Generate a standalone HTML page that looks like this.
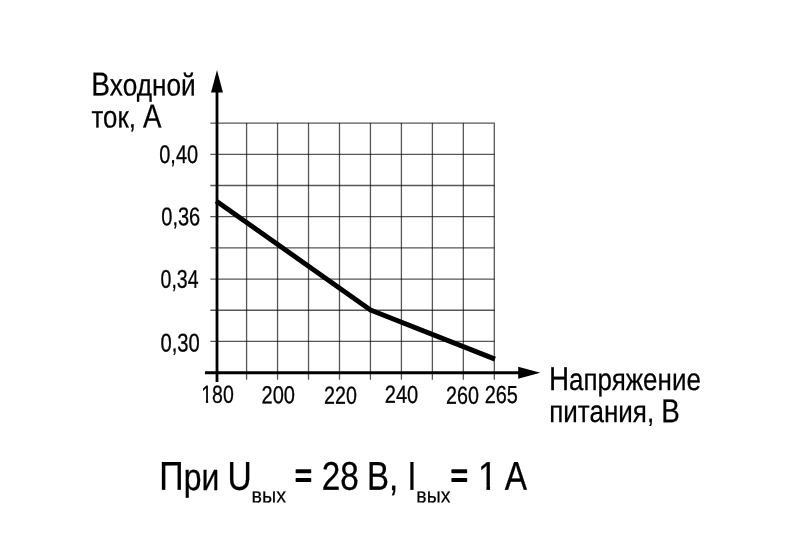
<!DOCTYPE html>
<html lang="ru"><head><meta charset="utf-8">
<style>html,body{margin:0;padding:0;background:#fff;overflow:hidden}svg{display:block}#all{filter:blur(0.35px)}text{font-family:"Liberation Sans", "DejaVu Sans", sans-serif;fill:#000;white-space:pre;text-rendering:geometricPrecision;stroke:#000;stroke-linejoin:round;}</style></head><body>
<svg width="800" height="560" viewBox="0 0 800 560">
<rect width="800" height="560" fill="#fff"/>
<g id="all">
<g id="grid" stroke="#000" stroke-width="1.3" stroke-opacity="0.66" fill="none" stroke-linejoin="round">
<path d="M210.3 123.10H494.31V379.7"/>
<line x1="246.59" y1="123.10" x2="246.59" y2="379.70"/>
<line x1="277.55" y1="123.10" x2="277.55" y2="379.70"/>
<line x1="308.51" y1="123.10" x2="308.51" y2="379.70"/>
<line x1="339.48" y1="123.10" x2="339.48" y2="379.70"/>
<line x1="370.44" y1="123.10" x2="370.44" y2="379.70"/>
<line x1="401.41" y1="123.10" x2="401.41" y2="379.70"/>
<line x1="432.38" y1="123.10" x2="432.38" y2="379.70"/>
<line x1="463.34" y1="123.10" x2="463.34" y2="379.70"/>
<line x1="210.30" y1="154.29" x2="494.31" y2="154.29"/>
<line x1="210.30" y1="185.48" x2="494.31" y2="185.48"/>
<line x1="210.30" y1="216.67" x2="494.31" y2="216.67"/>
<line x1="210.30" y1="247.86" x2="494.31" y2="247.86"/>
<line x1="210.30" y1="279.05" x2="494.31" y2="279.05"/>
<line x1="210.30" y1="310.24" x2="494.31" y2="310.24"/>
<line x1="210.30" y1="341.43" x2="494.31" y2="341.43"/>
</g>
<g id="axes" stroke="#000" stroke-width="2.8" fill="none">
<line x1="217" y1="90" x2="217" y2="381.9"/>
<line x1="205" y1="372.75" x2="520" y2="372.75"/>
</g>
<polygon id="ah1" points="217,70 222.95,92.5 211.05,92.5" fill="#000"/>
<polygon id="ah2" points="540.3,372.7 518.2,378.7 518.2,366.7" fill="#000"/>
<polyline id="curve" points="216.2,201.1 370.5,310.05 495,359.1" fill="none" stroke="#000" stroke-width="4.9" stroke-linejoin="round"/>
<text id="yl1" transform="translate(91.135 95.45) scale(0.8462 1) skewY(0.06)" font-size="31.0" stroke-width="0.25"><tspan font-size="33.2">В</tspan>ходной</text>
<text id="yl2" transform="translate(91.481 127.5) scale(0.8336 1) skewY(0.06)" font-size="31.0" stroke-width="0.25">ток, <tspan font-size="33.2">А</tspan></text>
<text id="y40" transform="translate(159.269 163.0) scale(0.7792 1) skewY(0.06)" font-size="25.6" stroke-width="0.3">0,40</text>
<text id="y36" transform="translate(161.263 225.3) scale(0.7824 1) skewY(0.06)" font-size="25.6" stroke-width="0.3">0,36</text>
<text id="y34" transform="translate(160.536 287.8) scale(0.7616 1) skewY(0.06)" font-size="25.6" stroke-width="0.3">0,34</text>
<text id="y30" transform="translate(160.510 351.4) scale(0.7894 1) skewY(0.06)" font-size="25.6" stroke-width="0.3">0,30</text>
<clipPath id="cx180"><path clip-rule="evenodd" d="M-10 -29.52H147.60V12.30H-10ZM-0.80 -3.29H5.89V7.38H-0.80ZM8.66 -3.29H15.15V7.38H8.66Z"/></clipPath>
<text id="x180" transform="translate(201.264 402.7) scale(0.7934 1) skewY(0.06)" font-size="24.6" stroke-width="0.3" clip-path="url(#cx180)">180</text>
<text id="x200" transform="translate(261.482 403.2) scale(0.8167 1) skewY(0.06)" font-size="24.6" stroke-width="0.3">200</text>
<text id="x220" transform="translate(324.000 403.75) scale(0.8000 1) skewY(0.06)" font-size="24.6" stroke-width="0.3">220</text>
<text id="x240" transform="translate(384.732 402.85) scale(0.8154 1) skewY(0.06)" font-size="24.6" stroke-width="0.3">240</text>
<text id="x260" transform="translate(445.998 403.65) scale(0.8013 1) skewY(0.06)" font-size="24.6" stroke-width="0.3">260</text>
<text id="x265" transform="translate(484.739 403.0) scale(0.8090 1) skewY(0.06)" font-size="24.6" stroke-width="0.3">265</text>
<text id="xl1" transform="translate(548.905 389.9) scale(0.8380 1) skewY(0.06)" font-size="31.0" stroke-width="0.25"><tspan font-size="33.2">Н</tspan>апряжение</text>
<text id="xl2" transform="translate(549.176 422.0) scale(0.8394 1) skewY(0.06)" font-size="31.0" stroke-width="0.25">питания, <tspan font-size="33.2">В</tspan></text>
<text id="f1" transform="translate(159.373 489.85) scale(0.8419 1) skewY(0.06)" font-size="37.9" stroke-width="0.3"><tspan font-size="40.2">П</tspan>ри</text>
<text id="f2" transform="translate(227.397 489.85) scale(0.8348 1) skewY(0.06)" font-size="40.2" stroke-width="0.3">U</text>
<text id="f3" transform="translate(251.575 502.5) scale(0.9400 1) skewY(0.06)" font-size="21.0" stroke-width="0.2">вых</text>
<text id="f4" transform="translate(294.680 487.1) scale(0.8608 1) skewY(0.06)" font-size="34.6" stroke-width="1.4">=</text>
<text id="f5" transform="translate(321.692 489.85) scale(0.8327 1) skewY(0.06)" font-size="40.0" stroke-width="0.3">28</text>
<text id="f6" transform="translate(366.930 489.85) scale(0.8209 1) skewY(0.06)" font-size="40.2" stroke-width="0.3">В,</text>
<text id="f7" transform="translate(407.532 489.85) scale(0.7896 1) skewY(0.06)" font-size="40.2" stroke-width="0.3">I</text>
<text id="f8" transform="translate(416.339 502.5) scale(0.9286 1) skewY(0.06)" font-size="21.0" stroke-width="0.2">вых</text>
<text id="f9" transform="translate(450.435 487.1) scale(0.8694 1) skewY(0.06)" font-size="34.6" stroke-width="1.4">=</text>
<clipPath id="cf10"><path clip-rule="evenodd" d="M-10 -48.00H240.00V20.00H-10ZM0.59 -4.44H9.76V12.00H0.59ZM13.89 -4.44H22.75V12.00H13.89Z"/></clipPath>
<text id="f10" transform="translate(477.999 489.85) scale(0.8680 1) skewY(0.06)" font-size="40.0" stroke-width="0.3" clip-path="url(#cf10)">1</text>
<text id="f11" transform="translate(504.748 489.85) scale(0.8321 1) skewY(0.06)" font-size="40.2" stroke-width="0.3">А</text>
</g>
</svg></body></html>
